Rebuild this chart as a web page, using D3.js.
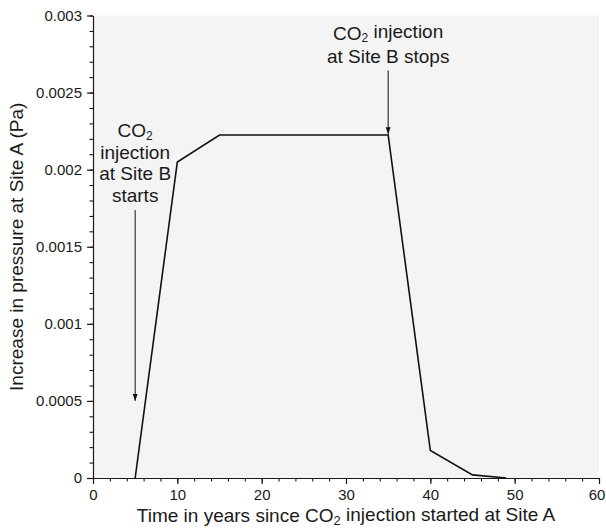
<!DOCTYPE html>
<html>
<head>
<meta charset="utf-8">
<script src="https://cdn.jsdelivr.net/npm/d3@7"></script>
<style>
    body { margin: 0; background: #fff; }
    svg { display: block; font-family: "Liberation Sans", Arial, sans-serif; }
</style>
</head>
<body>
<svg class="chart" width="606" height="529"></svg>
<script>
// data
const years = [5, 10, 15, 35, 40, 45, 49];
const pressure = [0, 0.00205, 0.002225, 0.002225, 0.000178, 0.00002, 0];

const xTicks = [0, 10, 20, 30, 40, 50, 60];
const yTicks = [0, 0.0005, 0.001, 0.0015, 0.002, 0.0025, 0.003];
const yTickLabels = ["0", "0.0005", "0.001", "0.0015", "0.002", "0.0025", "0.003"];

// annotations: year the arrow points at, text lines, arrow tip value
const startNote = { year: 5, lines: ["CO|2", "injection", "at Site B", "starts"], to: 0.0005 };
const stopNote = { year: 35, lines: ["CO|2 injection", "at Site B stops"], to: 0.00223 };

// config
const margin = { top: 15.5, right: 7, bottom: 51, left: 93 };
const width = 606, height = 529;
const innerW = width - margin.left - margin.right;
const innerH = height - margin.top - margin.bottom;

const svg = d3.select("svg.chart");

const x = d3.scaleLinear().domain([0, 60]).range([margin.left, margin.left + innerW]);
const y = d3.scaleLinear().domain([0, 0.003]).range([margin.top + innerH, margin.top]);

function translate(tx, ty) {
    return `translate(${tx}, ${ty})`;
}

// write text with a "|2" marker turned into a subscript
function subText(sel, str, subSize) {
    const parts = str.split("|");
    sel.append("tspan").text(parts[0]);
    if (parts.length > 1) {
        sel.append("tspan").attr("font-size", subSize).attr("dy", "0.22em").text(parts[1][0]);
        const rest = parts[1].slice(1);
        if (rest) sel.append("tspan").attr("dy", "-0.22em").text(rest);
    }
}

// background of the plot
svg.append("rect")
    .attr("x", margin.left)
    .attr("y", margin.top)
    .attr("width", innerW)
    .attr("height", innerH)
    .attr("fill", "#f4f4f4");

// minor ticks
svg.append("g")
    .attr("transform", translate(0, y(0)))
    .call(d3.axisBottom(x).tickValues(d3.range(0, 61, 2)).tickSize(3.5).tickFormat(""))
    .call(g => g.select(".domain").remove());

svg.append("g")
    .attr("transform", translate(x(0), 0))
    .call(d3.axisLeft(y).tickValues(d3.range(0, 31).map(d => d / 10000)).tickSize(3.5).tickFormat(""))
    .call(g => g.select(".domain").remove());

// major axes
const gx = svg.append("g")
    .attr("transform", translate(0, y(0)))
    .call(d3.axisBottom(x).tickValues(xTicks).tickSize(6).tickSizeOuter(0).tickPadding(5));

const gy = svg.append("g")
    .attr("transform", translate(x(0), 0))
    .call(d3.axisLeft(y).tickValues(yTicks).tickSize(6).tickSizeOuter(0).tickPadding(5)
        .tickFormat((d, i) => yTickLabels[i]));

[gx, gy].forEach(g => {
    g.selectAll("text").attr("font-size", 15).attr("fill", "#1a1a1a").attr("font-family", null);
    g.selectAll("line, path").attr("stroke", "#1a1a1a").attr("stroke-width", 1.2);
});

// last x label sits on the page edge, pull it in a little
gx.selectAll(".tick text").filter(d => d === 60).attr("dx", -2.5);

// axis titles
const xTitle = svg.append("text")
    .attr("x", margin.left + innerW / 2)
    .attr("y", 522)
    .attr("text-anchor", "middle")
    .attr("font-size", 19)
    .attr("fill", "#1a1a1a");
subText(xTitle, "Time in years since CO|2 injection started at Site A", 13);

svg.append("text")
    .attr("transform", translate(23, margin.top + innerH / 2) + " rotate(-90)")
    .attr("text-anchor", "middle")
    .attr("font-size", 19)
    .attr("fill", "#1a1a1a")
    .text("Increase in pressure at Site A (Pa)");

// data line
const line = d3.line()
    .x((d, i) => x(years[i]))
    .y(d => y(d));

svg.append("path")
    .datum(pressure)
    .attr("fill", "none")
    .attr("stroke", "#111")
    .attr("stroke-width", 1.6)
    .attr("stroke-linejoin", "miter")
    .attr("d", line);

// annotations
svg.append("defs").append("marker")
    .attr("id", "head")
    .attr("viewBox", "0 0 10 10")
    .attr("refX", 10)
    .attr("refY", 5)
    .attr("markerWidth", 7)
    .attr("markerHeight", 7)
    .attr("markerUnits", "userSpaceOnUse")
    .attr("orient", "auto")
    .append("path")
    .attr("d", "M0,1.5 L10,5 L0,8.5 Z")
    .attr("fill", "#111");

function note(n, firstBaseline, lineGap) {
    const cx = x(n.year);
    n.lines.forEach((str, i) => {
        const t = svg.append("text")
            .attr("x", cx)
            .attr("y", firstBaseline + i * lineGap)
            .attr("text-anchor", "middle")
            .attr("font-size", 19)
            .attr("fill", "#1a1a1a");
        subText(t, str, 12);
    });
    svg.append("line")
        .attr("x1", cx).attr("x2", cx)
        .attr("y1", firstBaseline + (n.lines.length - 1) * lineGap + 8)
        .attr("y2", y(n.to))
        .attr("stroke", "#111")
        .attr("stroke-width", 1)
        .attr("marker-end", "url(#head)");
}

note(startNote, 137, 21.7);
note(stopNote, 39.5, 23);
</script>
</body>
</html>
